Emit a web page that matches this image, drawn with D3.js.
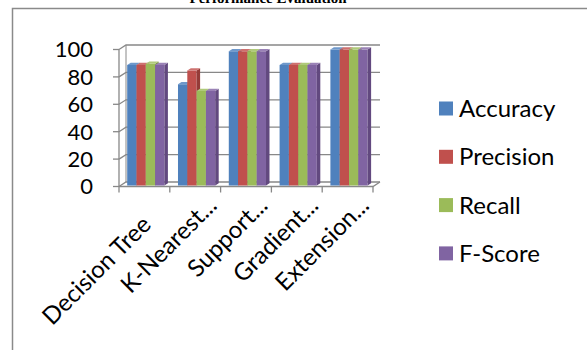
<!DOCTYPE html>
<html>
<head>
<meta charset="utf-8">
<script src="https://cdn.jsdelivr.net/npm/d3@7/dist/d3.min.js"></script>
<style>
  html, body { margin: 0; padding: 0; background: #fff; }
  svg { display: block; }
</style>
</head>
<body>
<svg id="chart" width="587" height="350"></svg>
<script>
// Classifier scores (%) per model
const categories = ["Decision Tree", "K-Nearest...", "Support...", "Gradient...", "Extension..."];
const seriesNames = ["Accuracy", "Precision", "Recall", "F-Score"];
const accuracy  = [88, 74, 98, 88, 99.3];
const precision = [88, 84, 98, 88, 99.3];
const recall    = [89, 69, 98, 88, 99.3];
const fscore    = [88, 69, 98, 88, 99.3];
const yTicks = [0, 20, 40, 60, 80, 100];
const titleText = "Performance Evaluation";

const seriesValues = [accuracy, precision, recall, fscore];
const colors = ["#4F81BD", "#C0504D", "#9BBB59", "#8064A2"];
const sideColors = ["#3B6397", "#953B38", "#7A9444", "#62497F"];
const topColors = ["#6E98CB", "#CD716F", "#AFC97A", "#9A82B6"];

const svg = d3.select("#chart");
const font = "Lato, 'Open Sans', sans-serif";

// outer chart frame (extends beyond the page at right and bottom)
svg.append("rect")
  .attr("x", 12.5).attr("y", 8.5)
  .attr("width", 640).attr("height", 400)
  .attr("fill", "#fff")
  .attr("stroke", "#8a8a8a").attr("stroke-width", 1.5);

// title, mostly above the page top
svg.append("text")
  .attr("x", 268).attr("y", 3)
  .attr("text-anchor", "middle")
  .attr("font-family", "'Liberation Serif', 'Times New Roman', serif")
  .attr("font-weight", "bold").attr("font-size", 15)
  .text(titleText);

// 3D projection: depth d in [0,1] shifts points up and to the right
const DX = 7, DY = -4.5;
const x = d3.scaleBand().domain(categories).range([119, 373]);
const y = d3.scaleLinear().domain([0, 100]).range([186.5, 49.5]);
const P = (px, py, d) => [px + d * DX, py + d * DY];
const line = pts => "M" + pts.map(p => p.join(",")).join("L") + "Z";
const pathOpen = pts => "M" + pts.map(p => p.join(",")).join("L");

const grid = svg.append("g").attr("fill", "none").attr("stroke", "#888").attr("stroke-width", 1.3);
const [xL, xR] = x.range();

// back wall gridlines + left wall diagonals
yTicks.forEach(t => {
  const yy = y(t);
  grid.append("path").attr("d", pathOpen([P(xL, yy, 0), P(xL, yy, 1), P(xR, yy, 1)]));
});
// left axis and wall edges
grid.append("path").attr("d", pathOpen([P(xL, y(0), 0), P(xL, y(100), 0)]));
grid.append("path").attr("d", pathOpen([P(xL, y(0), 1), P(xL, y(100), 1)])).attr("stroke-width", 1);
// floor
grid.append("path").attr("d", pathOpen([P(xL, y(0), 0), P(xR, y(0), 0), P(xR, y(0), 1)]));
// y tick marks
yTicks.forEach(t => {
  grid.append("path").attr("d", pathOpen([[xL - 6, y(t)], [xL, y(t)]]));
});
// category tick marks
categories.concat([null]).forEach((c, i) => {
  const xx = xL + i * x.step();
  grid.append("path").attr("d", pathOpen([[xx, y(0)], [xx, y(0) + 6]]));
});

// y tick labels
svg.append("g").selectAll("text").data(yTicks).join("text")
  .attr("x", 93).attr("y", d => y(d))
  .attr("dy", "0.36em")
  .attr("text-anchor", "end")
  .attr("font-family", font).attr("font-size", 22).attr("fill", "#000")
  .text(d => d);

// bars
const inner = d3.scaleBand().domain(seriesNames).range([0, x.bandwidth()]).paddingOuter(0.73);
const d0 = 0.2, d1 = 0.7;
const bars = svg.append("g");
categories.forEach((c, ci) => {
  seriesNames.forEach((s, si) => {
    const v = seriesValues[si][ci];
    const bx0 = x(c) + inner(s), bx1 = bx0 + inner.bandwidth();
    const yt = y(v), yb = y(0);
    // front face
    bars.append("path").attr("fill", colors[si])
      .attr("d", line([P(bx0, yb, d0), P(bx1, yb, d0), P(bx1, yt, d0), P(bx0, yt, d0)]));
    // right side face
    bars.append("path").attr("fill", sideColors[si])
      .attr("d", line([P(bx1, yb, d0), P(bx1, yb, d1), P(bx1, yt, d1), P(bx1, yt, d0)]));
    // top face
    bars.append("path").attr("fill", topColors[si])
      .attr("d", line([P(bx0, yt, d0), P(bx1, yt, d0), P(bx1, yt, d1), P(bx0, yt, d1)]));
  });
});

// rotated category labels
svg.append("g").selectAll("text").data(categories).join("text")
  .attr("text-anchor", "end")
  .attr("font-family", font).attr("font-size", 24).attr("fill", "#000")
  .attr("transform", (d, i) => {
    const cx = x(d) + x.bandwidth() / 2 + (i === 0 ? 8 : 23);
    const cy = i === 0 ? 226 : 207;
    return `translate(${cx},${cy}) rotate(-45)`;
  })
  .text(d => d);

// legend
const lg = svg.append("g");
seriesNames.forEach((s, i) => {
  const cy = 108.5 + i * 48.3;
  lg.append("rect").attr("x", 439).attr("y", cy - 7).attr("width", 14).attr("height", 14).attr("fill", colors[i]);
  lg.append("text").attr("x", 459).attr("y", cy).attr("dy", "0.36em")
    .attr("font-family", font).attr("font-size", 24).attr("fill", "#000").text(s);
});
</script>
</body>
</html>
